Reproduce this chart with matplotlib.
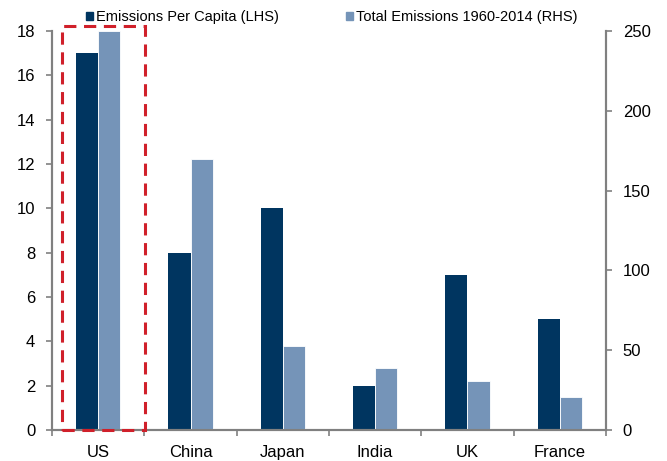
import matplotlib.pyplot as plt
import numpy as np
from matplotlib.patches import Patch, Rectangle

plt.rcParams['font.family'] = ['Liberation Sans', 'DejaVu Sans']

countries = ['US', 'China', 'Japan', 'India', 'UK', 'France']
per_capita = [17, 8, 10, 2, 7, 5]
total_emissions = [250, 170, 52.5, 38.7, 30.4, 21]

dark = '#003560'
light = '#7594b8'
grey = '#808080'

fig = plt.figure(figsize=(6.67, 4.61), dpi=100)
ax = fig.add_axes([0.078, 0.0672, 0.8305, 0.8656])
ax2 = ax.twinx()

x = np.arange(len(countries))
w = 0.24
ax.bar(x - w / 2, per_capita, width=w, color=dark, zorder=2)
ax2.bar(x + w / 2, total_emissions, width=w, color=light, edgecolor='white', linewidth=0.6, zorder=2)

ax.set_xlim(-0.5, len(countries) - 0.5)
ax.set_ylim(0, 18)
ax2.set_ylim(0, 250)
ax.set_yticks(range(0, 19, 2))
ax2.set_yticks(range(0, 251, 50))
ax.set_xticks(x)
ax.set_xticklabels(countries)
ax.set_xticks(np.arange(-0.5, len(countries), 1), minor=True)
ax.tick_params(axis='x', which='major', length=0, pad=11, labelsize=12)
ax.tick_params(axis='x', which='minor', length=4, width=1.2, color=grey, direction='out')
ax.tick_params(axis='y', length=4, width=1.2, color=grey, labelsize=12, pad=8)
ax2.tick_params(axis='y', length=4, width=1.2, color=grey, labelsize=12, pad=8)

for a in (ax, ax2):
    a.spines['top'].set_visible(False)
    for s in ('left', 'right', 'bottom'):
        a.spines[s].set_color(grey)
        a.spines[s].set_linewidth(1.5)

# dashed highlight box around US, drawn above the spines
rect = Rectangle((-0.39, 0), 0.9, 18.23, fill=False, edgecolor='#d0202a',
                 linewidth=2.2, linestyle=(0, (4, 2.5)), clip_on=False,
                 transform=ax.transData, zorder=10)
ax2.add_patch(rect)

handles = [Patch(color=dark, label='Emissions Per Capita (LHS)'),
           Patch(color=light, label='Total Emissions 1960-2014 (RHS)')]
fig.legend(handles=handles, loc='center', bbox_to_anchor=(0.497, 0.963), ncol=2,
           frameon=False, fontsize=10.5, handlelength=0.5, handleheight=0.5,
           handletextpad=0.2, columnspacing=4.6)

fig.savefig('out.png', dpi=100)
